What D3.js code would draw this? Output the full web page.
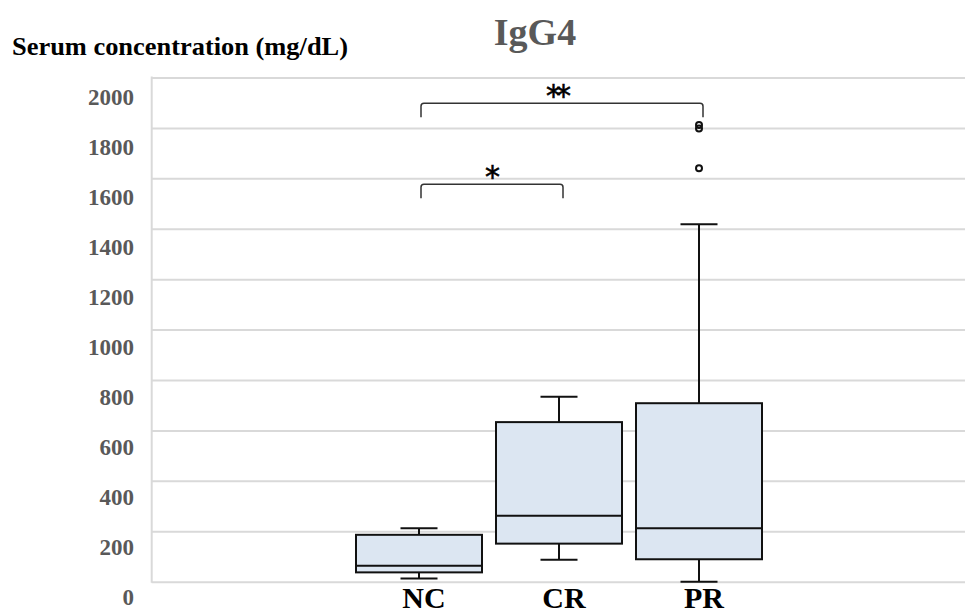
<!DOCTYPE html>
<html>
<head>
<meta charset="utf-8">
<script src="https://cdn.jsdelivr.net/npm/d3@7"></script>
<style>
  html, body { margin: 0; padding: 0; background: #fff; overflow: hidden; }
  svg { display: block; }
</style>
</head>
<body>
<svg id="chart" width="965" height="615"></svg>
<script>
// ---- data ----
const categories = ["NC", "CR", "PR"];
const whiskerLow  = [13, 87, 0];
const q1          = [37, 151, 89];
const median      = [63, 262, 212];
const q3          = [186, 633, 708];
const whiskerHigh = [212, 734, 1418];
const outliers    = [[], [], [1640, 1798, 1812]];
const yTicks = [0, 200, 400, 600, 800, 1000, 1200, 1400, 1600, 1800, 2000];
const sigFrom  = ["NC", "NC"];
const sigTo    = ["CR", "PR"];
const sigLevel = [1577, 1898];
const sigLabel = ["*", "**"];
const titleText = "IgG4";
const yTitleText = "Serum concentration (mg/dL)";

// ---- layout ----
const svg = d3.select("#chart");
const plotLeft = 151.7, plotRight = 985;
const y = d3.scaleLinear().domain([0, 2000]).range([581.7, 77.5]);
const yLab = d3.scaleLinear().domain([0, 2000]).range([604, 104]);
const x = d3.scalePoint().domain(categories).range([419, 699]);
const boxW = 126, capW = 37;
const serif = "'Liberation Serif', 'Times New Roman', serif";

// gridlines
const grid = svg.append("g").attr("transform", `translate(${plotLeft},0)`)
  .call(d3.axisLeft(y).tickValues(yTicks).tickSize(-(plotRight - plotLeft)).tickFormat(""));
grid.select(".domain").remove();
grid.selectAll(".tick line").attr("stroke", "#d9d9d9").attr("stroke-width", 2);
svg.append("line")
  .attr("x1", plotLeft).attr("x2", plotLeft)
  .attr("y1", y(0) + 1).attr("y2", y(2000) - 1)
  .attr("stroke", "#d9d9d9").attr("stroke-width", 2);

// y tick labels
const yl = svg.append("g").attr("transform", "translate(134,0)")
  .call(d3.axisLeft(yLab).tickValues(yTicks).tickSize(0).tickPadding(0).tickFormat(d3.format("d")));
yl.select(".domain").remove();
yl.selectAll("text")
  .attr("dy", 0)
  .attr("font-family", serif).attr("font-weight", "bold")
  .attr("font-size", 23).attr("fill", "#595959");

// titles
svg.append("text").attr("x", 535).attr("y", 45).attr("text-anchor", "middle")
  .attr("font-family", serif).attr("font-weight", "bold").attr("font-size", 38)
  .attr("fill", "#595959").text(titleText);
svg.append("text").attr("x", 12).attr("y", 55)
  .attr("font-family", serif).attr("font-weight", "bold").attr("font-size", 25)
  .attr("textLength", 336).attr("lengthAdjust", "spacingAndGlyphs")
  .attr("fill", "#000").text(yTitleText);

// boxes
const data = categories.map((c, i) => ({
  c, lo: whiskerLow[i], q1: q1[i], med: median[i], q3: q3[i], hi: whiskerHigh[i], out: outliers[i]
}));
const g = svg.append("g").selectAll("g").data(data).join("g");
const stroke = "#111", sw = 2;
g.append("line").attr("x1", d => x(d.c)).attr("x2", d => x(d.c))
  .attr("y1", d => y(d.hi)).attr("y2", d => y(d.q3)).attr("stroke", stroke).attr("stroke-width", sw);
g.append("line").attr("x1", d => x(d.c)).attr("x2", d => x(d.c))
  .attr("y1", d => y(d.q1)).attr("y2", d => y(d.lo)).attr("stroke", stroke).attr("stroke-width", sw);
g.append("line").attr("x1", d => x(d.c) - capW / 2).attr("x2", d => x(d.c) + capW / 2)
  .attr("y1", d => y(d.hi)).attr("y2", d => y(d.hi)).attr("stroke", stroke).attr("stroke-width", sw);
g.append("line").attr("x1", d => x(d.c) - capW / 2).attr("x2", d => x(d.c) + capW / 2)
  .attr("y1", d => y(d.lo)).attr("y2", d => y(d.lo)).attr("stroke", stroke).attr("stroke-width", sw);
g.append("rect").attr("x", d => x(d.c) - boxW / 2).attr("width", boxW)
  .attr("y", d => y(d.q3)).attr("height", d => y(d.q1) - y(d.q3))
  .attr("fill", "#dce6f2").attr("stroke", stroke).attr("stroke-width", sw);
g.append("line").attr("x1", d => x(d.c) - boxW / 2).attr("x2", d => x(d.c) + boxW / 2)
  .attr("y1", d => y(d.med)).attr("y2", d => y(d.med)).attr("stroke", stroke).attr("stroke-width", sw);
g.selectAll("circle").data(d => d.out.map(v => ({ c: d.c, v }))).join("circle")
  .attr("cx", d => x(d.c)).attr("cy", d => y(d.v)).attr("r", 3)
  .attr("fill", "none").attr("stroke", stroke).attr("stroke-width", 2);

// x labels
svg.append("g").selectAll("text").data(categories).join("text")
  .attr("x", d => x(d) + 5).attr("y", 608).attr("text-anchor", "middle")
  .attr("font-family", serif).attr("font-weight", "bold").attr("font-size", 30)
  .attr("fill", "#000").text(d => d);

// significance brackets
const sig = sigFrom.map((f, i) => ({ a: x(f) + 2, b: x(sigTo[i]) + 4, yy: y(sigLevel[i]), lab: sigLabel[i] }));
const sg = svg.append("g").selectAll("g").data(sig).join("g");
const tickH = 14, r = 3;
sg.append("path")
  .attr("d", d => `M${d.a},${d.yy + tickH} V${d.yy + r} Q${d.a},${d.yy} ${d.a + r},${d.yy} H${d.b - r} Q${d.b},${d.yy} ${d.b},${d.yy + r} V${d.yy + tickH}`)
  .attr("fill", "none").attr("stroke", "#333").attr("stroke-width", 1.5);
sg.append("text")
  .attr("x", d => (d.a + d.b) / 2).attr("y", d => d.yy + 3)
  .attr("dx", d => d.lab.length > 1 ? -6 : -2)
  .attr("text-anchor", "middle")
  .attr("font-family", "'DejaVu Sans', sans-serif").attr("font-size", 30)
  .attr("fill", "#000").attr("stroke", "#000").attr("stroke-width", 0.6)
  .attr("letter-spacing", -5).text(d => d.lab);
</script>
</body>
</html>
